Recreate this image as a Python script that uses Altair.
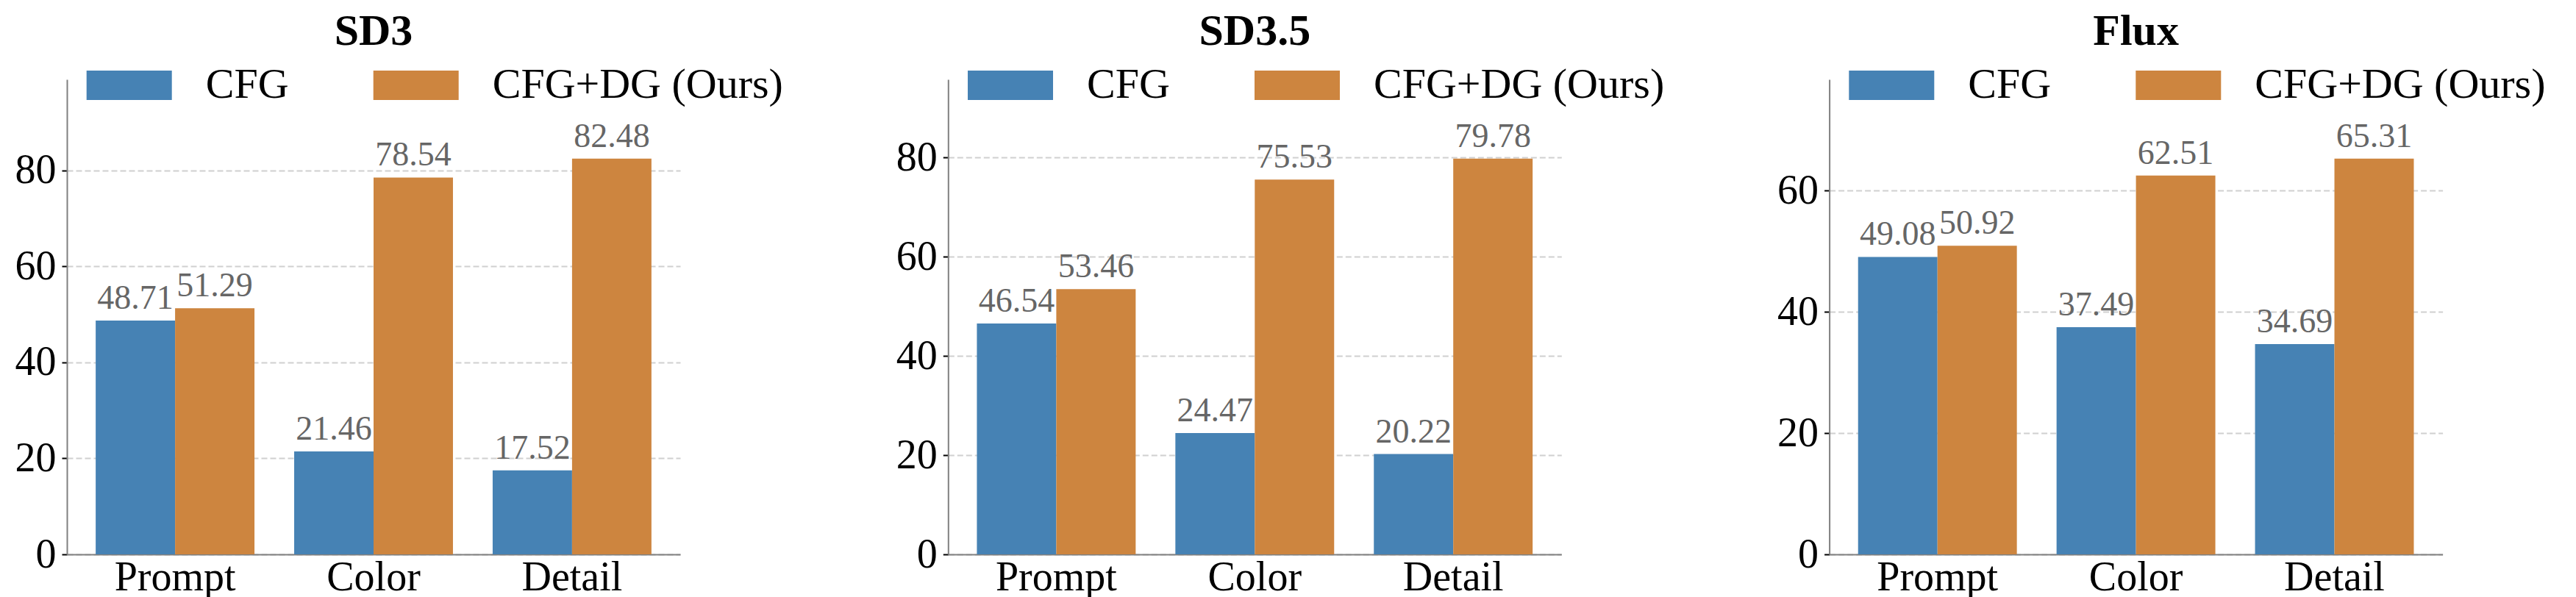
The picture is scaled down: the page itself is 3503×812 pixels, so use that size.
import altair as alt
import pandas as pd

categories = ["Prompt", "Color", "Detail"]
methods = ["CFG", "CFG+DG (Ours)"]
panel_titles = ["SD3", "SD3.5", "Flux"]

sd3_cfg = [48.71, 21.46, 17.52]
sd3_dg = [51.29, 78.54, 82.48]
sd35_cfg = [46.54, 24.47, 20.22]
sd35_dg = [53.46, 75.53, 79.78]
flux_cfg = [49.08, 37.49, 34.69]
flux_dg = [50.92, 62.51, 65.31]

y_ticks = [[0, 20, 40, 60, 80], [0, 20, 40, 60, 80], [0, 20, 40, 60]]
colors = ["#4682B4", "#CD853F"]

FONT = "Liberation Serif"
PLOT_W = 834
PLOT_H = 646

series = [(sd3_cfg, sd3_dg), (sd35_cfg, sd35_dg), (flux_cfg, flux_dg)]

rect_path = "M-1,-0.345L1,-0.345L1,0.345L-1,0.345Z"


def panel(title, cfg, dg, ticks):
    rows = []
    for c, v in zip(categories, cfg):
        rows.append({"category": c, "method": methods[0], "value": v})
    for c, v in zip(categories, dg):
        rows.append({"category": c, "method": methods[1], "value": v})
    df = pd.DataFrame(rows)
    ymax = max(max(cfg), max(dg)) * 1.2

    x = alt.X(
        "category:N",
        sort=categories,
        scale=alt.Scale(paddingInner=0.2, paddingOuter=0.145),
        axis=alt.Axis(
            title=None,
            labelAngle=0,
            ticks=False,
            tickSize=0,
            labelFontSize=56,
            labelFont=FONT,
            labelColor="black",
            labelPadding=4,
            domainColor="#808080",
            domainWidth=2,
            grid=False,
        ),
    )
    y = alt.Y(
        "value:Q",
        scale=alt.Scale(domain=[0, ymax], nice=False, zero=True),
        axis=alt.Axis(
            title=None,
            values=ticks,
            format="d",
            grid=True,
            gridDash=[8, 4],
            gridColor="#d0d0d0",
            gridWidth=2,
            tickSize=7,
            tickColor="black",
            tickWidth=2,
            labelFontSize=56,
            labelFont=FONT,
            labelColor="black",
            labelPadding=8,
            domainColor="#808080",
            domainWidth=2,
        ),
    )
    xo = alt.XOffset("method:N", sort=methods, scale=alt.Scale(paddingInner=0, paddingOuter=0))

    base = alt.Chart(df)
    bars = base.mark_bar().encode(
        x=x,
        y=y,
        xOffset=xo,
        color=alt.Color(
            "method:N",
            sort=methods,
            scale=alt.Scale(domain=methods, range=colors),
            legend=alt.Legend(
                title=None,
                orient="none",
                legendX=26.7,
                legendY=-50,
                direction="horizontal",
                symbolType=rect_path,
                symbolSize=13456,
                symbolStrokeWidth=0,
                symbolOpacity=1,
                labelFontSize=58,
                labelFont=FONT,
                labelColor="black",
                labelOffset=46,
                labelLimit=0,
                columnPadding=115,
                padding=0,
            ),
        ),
    )
    labels = base.mark_text(
        dy=-16, baseline="alphabetic", fontSize=46, font=FONT, color="#666666"
    ).encode(
        x=x,
        y=y,
        xOffset=xo,
        text=alt.Text("value:Q", format=".2f"),
    )
    return alt.layer(bars, labels).properties(
        width=PLOT_W,
        height=PLOT_H,
        title=alt.TitleParams(
            text=title,
            fontSize=60,
            fontWeight="bold",
            font=FONT,
            color="black",
            anchor="middle",
            frame="group",
            offset=-16,
        ),
    )


panels = [
    panel(t, c, d, tk)
    for t, (c, d), tk in zip(panel_titles, series, y_ticks)
]

chart = (
    alt.hconcat(*panels, spacing=364.3, bounds="flush")
    .resolve_scale(color="independent", y="independent")
    .resolve_legend(color="independent")
    .configure_view(stroke=None)
    .properties(padding={"left": 20, "top": 13, "right": 5, "bottom": 0}, background="white")
)

chart.save("out.html", embed_options={"renderer": "svg", "actions": False})
